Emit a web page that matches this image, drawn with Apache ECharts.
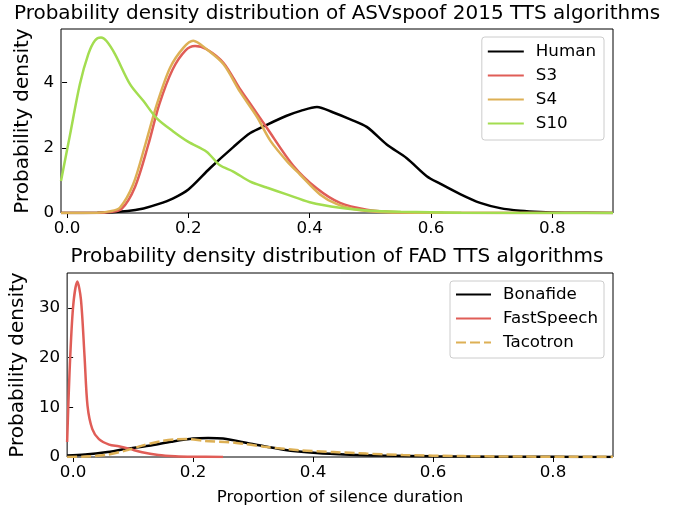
<!DOCTYPE html>
<html><head><meta charset="utf-8">
<script src="https://cdn.jsdelivr.net/npm/echarts@6/dist/echarts.min.js"></script>
<style>html,body{margin:0;padding:0;background:#fff}#c{width:685px;height:512px}</style>
</head><body><div id="c"></div>
<script>
// ---- Top panel: ASVspoof 2015 ----
const humanX = [-0.01, 0.05, 0.1, 0.126, 0.15, 0.175, 0.2, 0.236, 0.274, 0.302, 0.329, 0.362, 0.385, 0.412, 0.439, 0.467, 0.494, 0.527, 0.56, 0.593, 0.615, 0.648, 0.681, 0.714, 0.747, 0.78, 0.82, 0.9];
const humanY = [0, 0.005, 0.06, 0.14, 0.27, 0.45, 0.72, 1.38, 2.02, 2.45, 2.70, 2.98, 3.13, 3.25, 3.08, 2.87, 2.64, 2.10, 1.68, 1.13, 0.90, 0.58, 0.31, 0.15, 0.07, 0.03, 0.01, 0.0];
const s3X = [-0.01, 0.05, 0.07, 0.09, 0.112, 0.134, 0.152, 0.174, 0.195, 0.211, 0.23, 0.258, 0.285, 0.302, 0.329, 0.373, 0.412, 0.45, 0.494, 0.53, 0.57, 0.62, 0.9];
const s3Y = [0, 0.003, 0.03, 0.13, 0.8, 2.10, 3.33, 4.40, 4.98, 5.12, 5.02, 4.60, 3.80, 3.35, 2.62, 1.45, 0.75, 0.31, 0.10, 0.04, 0.015, 0.005, 0];
const s4X = [-0.01, 0.05, 0.07, 0.087, 0.109, 0.129, 0.148, 0.17, 0.192, 0.208, 0.23, 0.258, 0.285, 0.313, 0.335, 0.362, 0.384, 0.417, 0.445, 0.478, 0.51, 0.55, 0.6, 0.9];
const s4Y = [0, 0.005, 0.05, 0.16, 0.88, 2.10, 3.33, 4.46, 5.07, 5.28, 5.02, 4.56, 3.72, 2.95, 2.22, 1.60, 1.18, 0.57, 0.27, 0.10, 0.04, 0.015, 0.005, 0];
const s10X = [-0.01, 0.005, 0.021, 0.035, 0.046, 0.056, 0.065, 0.079, 0.104, 0.126, 0.148, 0.175, 0.2, 0.23, 0.252, 0.274, 0.302, 0.329, 0.362, 0.40, 0.45, 0.494, 0.55, 0.65, 0.9];
const s10Y = [0.98, 2.41, 3.94, 4.87, 5.29, 5.38, 5.27, 4.87, 3.94, 3.43, 2.90, 2.50, 2.18, 1.88, 1.46, 1.27, 0.96, 0.78, 0.57, 0.33, 0.16, 0.08, 0.04, 0.01, 0];
// ---- Bottom panel: FAD ----
const fastX = [-0.01, -0.006, 0.0, 0.007, 0.013, 0.019, 0.024, 0.032, 0.043, 0.06, 0.076, 0.093, 0.115, 0.142, 0.17, 0.2, 0.25];
const fastY = [3, 17, 30.3, 35.3, 31.7, 20.3, 10.3, 5.6, 3.6, 2.5, 2.15, 1.68, 0.94, 0.4, 0.15, 0.05, 0.01];
const bonaX = [-0.01, 0.02, 0.054, 0.087, 0.126, 0.164, 0.2, 0.225, 0.25, 0.296, 0.351, 0.406, 0.461, 0.516, 0.6, 0.7, 0.8, 0.9];
const bonaY = [0.28, 0.5, 0.94, 1.6, 2.28, 3.08, 3.7, 3.81, 3.7, 2.68, 1.48, 0.8, 0.47, 0.3, 0.15, 0.06, 0.03, 0.02];
const tacoX = [-0.01, 0.021, 0.054, 0.087, 0.115, 0.148, 0.17, 0.19, 0.219, 0.269, 0.324, 0.379, 0.434, 0.489, 0.55, 0.65, 0.75, 0.9];
const tacoY = [0.02, 0.1, 0.4, 1.28, 2.28, 3.2, 3.55, 3.6, 3.25, 2.88, 2.0, 1.34, 1.0, 0.68, 0.4, 0.18, 0.08, 0.03];
const xTicks = [0, 0.2, 0.4, 0.6, 0.8];
const yTicksTop = [0, 2, 4];
const yTicksBottom = [0, 10, 20, 30];
const titles = ['Probability density distribution of ASVspoof 2015 TTS algorithms', 'Probability density distribution of FAD TTS algorithms'];
const yLabel = 'Probability density';
const xLabel = 'Proportion of silence duration';

const zip = (xs, ys) => xs.map((x, i) => [x, ys[i]]);
const FONT = 'DejaVu Sans';
const RED = '#e05d57', ORANGE = '#ddb055', GREEN = '#a3dd50';
const SMALL = 16.7, BIG = 20;

function xAxis(idx, withName) {
  return {
    gridIndex: idx, type: 'value', min: -0.01, max: 0.9,
    axisLine: {show: false}, splitLine: {show: false},
    axisTick: {show: true, inside: false, length: 5, lineStyle: {color: '#000', width: 1}, customValues: xTicks},
    axisLabel: {customValues: xTicks, formatter: v => v.toFixed(1), color: '#000', fontFamily: FONT, fontSize: SMALL, margin: 7},
    name: withName ? xLabel : '', nameLocation: 'middle', nameGap: 32,
    nameTextStyle: {color: '#000', fontFamily: FONT, fontSize: SMALL}
  };
}
function yAxis(idx, max, ticks) {
  return {
    gridIndex: idx, type: 'value', min: 0, max: max,
    axisLine: {show: false}, splitLine: {show: false},
    axisTick: {show: true, inside: false, length: 5, lineStyle: {color: '#000', width: 1}, customValues: ticks},
    axisLabel: {customValues: ticks, color: '#000', fontFamily: FONT, fontSize: SMALL, margin: 7},
    name: yLabel, nameLocation: 'middle', nameGap: 28,
    nameTextStyle: {color: '#000', fontFamily: FONT, fontSize: BIG}
  };
}
function line(name, data, color, xi, dashed) {
  return {
    name: name, type: 'line', xAxisIndex: xi, yAxisIndex: xi, data: data,
    showSymbol: false, symbol: 'none', smooth: 0.3,
    lineStyle: {color: color, width: 2.5, type: dashed ? [10, 4] : 'solid'},
    itemStyle: {color: color}
  };
}
const legendCommon = {
  orient: 'vertical', itemWidth: 36, itemHeight: 14, itemGap: 7,
  backgroundColor: '#fff', borderColor: '#ccc', borderWidth: 1, borderRadius: 3,
  itemStyle: {color: 'transparent', borderColor: 'transparent', borderWidth: 0, opacity: 0},
  textStyle: {color: '#000', fontFamily: FONT, fontSize: SMALL, padding: [0, 0, 0, 7]}
};
const chart = echarts.init(document.getElementById('c'), null, {renderer: 'canvas'});
chart.setOption({
  animation: false,
  backgroundColor: '#fff',
  title: [
    {text: titles[0], left: 337, textAlign: 'center', top: 4, padding: 0, textStyle: {color: '#000', fontFamily: FONT, fontSize: BIG, fontWeight: 'normal'}},
    {text: titles[1], left: 337, textAlign: 'center', top: 247, padding: 0, textStyle: {color: '#000', fontFamily: FONT, fontSize: BIG, fontWeight: 'normal'}}
  ],
  grid: [
    {left: 61, right: 72, top: 29, height: 184, show: true, borderColor: '#000', borderWidth: 1, backgroundColor: 'transparent'},
    {left: 61, right: 72, top: 273, height: 184, show: true, borderColor: '#000', borderWidth: 1, backgroundColor: 'transparent'}
  ],
  xAxis: [xAxis(0, false), xAxis(1, true)],
  yAxis: [yAxis(0, 5.64, yTicksTop), yAxis(1, 37, yTicksBottom)],
  legend: [
    Object.assign({}, legendCommon, {data: ['Human', 'S3', 'S4', 'S10'], right: 81, top: 37, padding: [6, 8, 8, 5]}),
    Object.assign({}, legendCommon, {data: ['Bonafide', 'FastSpeech', 'Tacotron'], right: 81, top: 281, padding: [5, 6, 7, 5], itemWidth: 35})
  ],
  series: [
    line('Human', zip(humanX, humanY), '#000', 0),
    line('S3', zip(s3X, s3Y), RED, 0),
    line('S4', zip(s4X, s4Y), ORANGE, 0),
    line('S10', zip(s10X, s10Y), GREEN, 0),
    line('Bonafide', zip(bonaX, bonaY), '#000', 1),
    line('FastSpeech', zip(fastX, fastY), RED, 1),
    line('Tacotron', zip(tacoX, tacoY), ORANGE, 1, true)
  ]
});
</script></body></html>
